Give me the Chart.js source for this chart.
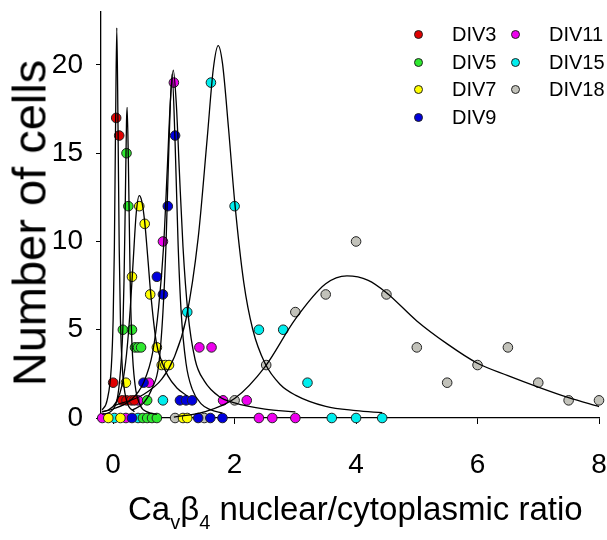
<!DOCTYPE html>
<html>
<head>
<meta charset="utf-8">
<script src="https://cdn.jsdelivr.net/npm/chart.js@4"></script>
<style>
  body { margin: 0; background: #fff; }
  #wrap { position: relative; width: 607px; height: 540px; font-family: "Liberation Sans", Arial, sans-serif; }
  #legend { position: absolute; left: 0; top: 0; }
  .item { position: absolute; font-size: 20px; line-height: 20px; color: #000; white-space: nowrap; }
  .dot { position: absolute; width: 7px; height: 7px; border: 1px solid #222; border-radius: 50%; }
  #xtitle { position: absolute; left: 128px; top: 491px; font-size: 33px; line-height: 36px; color: #000; white-space: nowrap; }
  #xtitle sub { font-size: 20px; vertical-align: -9px; line-height: 0; }
  #ytitle { position: absolute; left: 29px; top: 223px; font-size: 47px; line-height: 47px; color: #000; white-space: nowrap;
            transform: translate(-50%, -50%) rotate(-90deg); }
</style>
</head>
<body>
<div id="wrap">
  <canvas id="chart" width="607" height="540"></canvas>
  <div id="legend"></div>
  <div id="ytitle">Number of cells</div>
  <div id="xtitle">Ca<sub>v</sub>β<sub>4</sub> nuclear/cytoplasmic ratio</div>
</div>
<script>
// Series names and tick values
const seriesNames = ['DIV3', 'DIV5', 'DIV7', 'DIV9', 'DIV11', 'DIV15', 'DIV18'];
const xTickVals = [0, 2, 4, 6, 8];
const yTickVals = [0, 5, 10, 15, 20];

// Measured points [ratio, number of cells]
const div3Pts = [[0.05,17],[0.1,16],[0,2],[0.15,1],[0.22,1],[0.3,1],[0.35,1]];
const div5Pts = [[0.22,15],[0.25,12],[0.16,5],[0.31,5],[0.36,4],[0.41,4],[0.46,4],[0.56,1],[0.49,0],[0.56,0],[0.64,0],[0.72,0]];
const div7Pts = [[0.43,12],[0.52,11],[0.31,8],[0.61,7],[0.72,4],[0.8,3],[0.86,3],[0.92,3],[0.21,2],[-0.08,0],[0.12,0],[1.15,0],[1.22,0]];
const div9Pts = [[1.02,16],[0.9,12],[0.72,8],[0.82,7],[0.5,2],[1.1,1],[1.2,1],[1.3,1],[0.31,0],[1.4,0],[1.6,0],[1.8,0]];
const div11Pts = [[1.0,19],[0.82,10],[1.42,4],[1.62,4],[0.59,2],[0.41,1],[1.81,1],[2.2,1],[-0.18,0],[0.21,0],[2.4,0],[2.62,0],[3.0,0]];
const div15Pts = [[1.61,19],[2.0,12],[1.22,6],[2.4,5],[2.8,5],[3.2,2],[0.82,1],[0.02,0],[0.41,0],[3.6,0],[4.0,0],[4.43,0]];
const div18Pts = [[4.0,10],[3.5,7],[4.5,7],[3.0,6],[2.52,3],[2.0,1],[5.0,4],[5.5,2],[6.0,3],[6.5,4],[7.0,2],[7.5,1],[8.0,1],[1.02,0],[1.5,0]];

// Fitted curves
const div3Fit = [[-0.18,0.46],[-0.1,1.0],[-0.03,2.9],[0,5.6],[0.02,9.6],[0.04,16.6],[0.06,22.1],[0.08,16.6],[0.1,9.6],[0.12,5.6],[0.15,2.9],[0.22,1.0],[0.35,0.35]];
const div5Fit = [[-0.18,0.2],[0,0.5],[0.1,1.9],[0.16,5.1],[0.18,7.9],[0.2,12.2],[0.22,16.8],[0.23,17.6],[0.25,14.7],[0.28,7.9],[0.31,4.2],[0.36,1.9],[0.45,0.7],[0.56,0.35],[0.72,0.2]];
const div7Fit = [[-0.18,0.35],[-0.08,0.45],[0.05,0.9],[0.15,1.9],[0.22,3.6],[0.28,6.1],[0.33,8.9],[0.38,11.6],[0.43,12.6],[0.47,12.3],[0.52,11.1],[0.57,9.1],[0.62,7.0],[0.71,4.3],[0.8,3.2],[0.9,2.4],[1.05,1.7],[1.22,1.25]];
const div9Fit = [[0.31,0.44],[0.5,0.84],[0.65,1.75],[0.75,3.0],[0.82,6.0],[0.87,9.8],[0.92,15.6],[0.97,19.5],[1.02,15.6],[1.07,9.8],[1.12,6.0],[1.2,3.1],[1.3,1.65],[1.45,0.8],[1.6,0.47],[1.8,0.28]];
const div11Fit = [[-0.18,0.37],[0,0.51],[0.3,1.05],[0.5,2.0],[0.65,3.7],[0.75,6.3],[0.83,9.7],[0.89,14],[0.94,17.8],[0.99,19.7],[1.04,17.8],[1.09,14],[1.15,9.7],[1.23,6.0],[1.35,3.3],[1.5,2.1],[1.75,1.2],[2.0,0.85],[2.5,0.5],[3.0,0.35]];
const div15Fit = [[0.02,0.7],[0.5,1.33],[0.8,2.2],[1.0,3.4],[1.2,5.6],[1.4,10.2],[1.55,15.9],[1.65,19.8],[1.73,21.1],[1.8,20.1],[1.9,16.4],[2.0,12.3],[2.15,7.7],[2.3,5.0],[2.5,3.1],[2.75,1.9],[3.0,1.3],[3.5,0.66],[4.0,0.42],[4.43,0.3]];
const div18Fit = [[1.0,0.05],[1.5,0.35],[2.0,1.1],[2.5,2.9],[3.0,5.6],[3.5,7.6],[3.85,8.05],[4.2,7.8],[4.5,7.1],[5.0,5.5],[5.5,4.2],[6.0,3.1],[6.5,2.4],[7.0,1.75],[7.5,1.15],[8.0,0.65]];

const allPts = [div3Pts, div5Pts, div7Pts, div9Pts, div11Pts, div15Pts, div18Pts];
const allFits = [div3Fit, div5Fit, div7Fit, div9Fit, div11Fit, div15Fit, div18Fit];
const colors = ['#e00000', '#2ee82e', '#ffff00', '#0000dd', '#ee00ee', '#00eeee', '#c2c2ba'];

const toXY = arr => arr.map(p => ({ x: p[0], y: p[1] }));

const datasets = [];
allFits.forEach((fit, i) => {
    datasets.push({
        type: 'line',
        label: seriesNames[i] + ' fit',
        data: toXY(fit),
        borderColor: '#000',
        borderWidth: 1.3,
        pointRadius: 0,
        fill: false,
        cubicInterpolationMode: 'monotone',
        clip: false,
        order: 0
    });
});
allPts.forEach((pts, i) => {
    datasets.push({
        type: 'scatter',
        label: seriesNames[i],
        data: toXY(pts),
        backgroundColor: colors[i],
        borderColor: '#222',
        borderWidth: 1,
        pointRadius: 4.8,
        clip: false,
        order: 1
    });
});

const tickFont = { family: '"Liberation Sans", Arial, sans-serif', size: 28 };

new Chart(document.getElementById('chart'), {
    data: { datasets: datasets },
    options: {
        responsive: false,
        animation: false,
        layout: { padding: { top: 12, right: 8, left: 0, bottom: 0 } },
        plugins: { legend: { display: false }, tooltip: { enabled: false } },
        scales: {
            x: {
                type: 'linear',
                min: -0.2,
                max: 8,
                afterBuildTicks: s => { s.ticks = xTickVals.map(v => ({ value: v })); },
                afterFit: s => { s.height = 122; s.paddingLeft = 0; s.paddingRight = 0; },
                grid: { drawOnChartArea: false, color: '#000', tickLength: 6 },
                border: { color: '#000', width: 1.3 },
                ticks: { color: '#000', font: tickFont, padding: 24, maxRotation: 0 }
            },
            y: {
                type: 'linear',
                min: 0,
                max: 23,
                afterBuildTicks: s => { s.ticks = yTickVals.map(v => ({ value: v })); },
                afterFit: s => { s.width = 101; s.paddingTop = 0; s.paddingBottom = 0; },
                grid: { drawOnChartArea: false, color: '#000', tickLength: 5 },
                border: { color: '#000', width: 1.3 },
                ticks: { color: '#000', font: tickFont, padding: 13 }
            }
        }
    }
});

// Legend: two columns, as in the figure
const legendCols = [[0, 1, 2, 3], [4, 5, 6]];
const colLeft = [418, 515];
const rowTop = [34, 62, 89, 117];
const legend = document.getElementById('legend');
legendCols.forEach((col, c) => {
    col.forEach((idx, r) => {
        const dot = document.createElement('div');
        dot.className = 'dot';
        dot.style.background = colors[idx];
        dot.style.left = (colLeft[c] - 4) + 'px';
        dot.style.top = (rowTop[r] - 4) + 'px';
        legend.appendChild(dot);
        const txt = document.createElement('div');
        txt.className = 'item';
        txt.textContent = seriesNames[idx];
        txt.style.left = (colLeft[c] + 34) + 'px';
        txt.style.top = (rowTop[r] - 10) + 'px';
        legend.appendChild(txt);
    });
});
</script>
</body>
</html>
